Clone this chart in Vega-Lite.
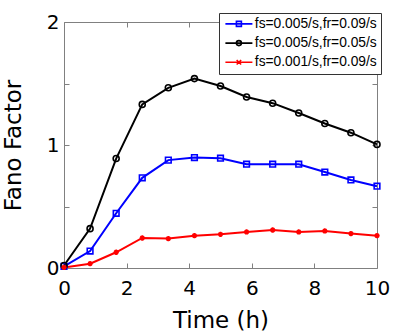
{
  "$schema": "https://vega.github.io/schema/vega-lite/v6.json",
  "autosize": "none",
  "width": 313,
  "height": 246,
  "padding": {"left": 64, "top": 22, "right": 38, "bottom": 63},
  "background": "white",
  "config": {
    "font": "DejaVu Sans",
    "view": {"stroke": "#808080", "strokeWidth": 1},
    "axis": {"grid": false, "domain": false, "tickColor": "#808080", "labelColor": "black", "titleColor": "black", "titleFontWeight": "normal", "labelFlush": false}
  },
  "data": {"values": [
    {"t": 0, "v": 0.014, "s": "fs=0.005/s,fr=0.09/s"},
    {"t": 0.833, "v": 0.138, "s": "fs=0.005/s,fr=0.09/s"},
    {"t": 1.667, "v": 0.445, "s": "fs=0.005/s,fr=0.09/s"},
    {"t": 2.5, "v": 0.733, "s": "fs=0.005/s,fr=0.09/s"},
    {"t": 3.333, "v": 0.877, "s": "fs=0.005/s,fr=0.09/s"},
    {"t": 4.167, "v": 0.898, "s": "fs=0.005/s,fr=0.09/s"},
    {"t": 5, "v": 0.893, "s": "fs=0.005/s,fr=0.09/s"},
    {"t": 5.833, "v": 0.844, "s": "fs=0.005/s,fr=0.09/s"},
    {"t": 6.667, "v": 0.844, "s": "fs=0.005/s,fr=0.09/s"},
    {"t": 7.5, "v": 0.844, "s": "fs=0.005/s,fr=0.09/s"},
    {"t": 8.333, "v": 0.78, "s": "fs=0.005/s,fr=0.09/s"},
    {"t": 9.167, "v": 0.716, "s": "fs=0.005/s,fr=0.09/s"},
    {"t": 10, "v": 0.665, "s": "fs=0.005/s,fr=0.09/s"},
    {"t": 0, "v": 0.02, "s": "fs=0.005/s,fr=0.05/s"},
    {"t": 0.833, "v": 0.32, "s": "fs=0.005/s,fr=0.05/s"},
    {"t": 1.667, "v": 0.89, "s": "fs=0.005/s,fr=0.05/s"},
    {"t": 2.5, "v": 1.33, "s": "fs=0.005/s,fr=0.05/s"},
    {"t": 3.333, "v": 1.465, "s": "fs=0.005/s,fr=0.05/s"},
    {"t": 4.167, "v": 1.54, "s": "fs=0.005/s,fr=0.05/s"},
    {"t": 5, "v": 1.48, "s": "fs=0.005/s,fr=0.05/s"},
    {"t": 5.833, "v": 1.39, "s": "fs=0.005/s,fr=0.05/s"},
    {"t": 6.667, "v": 1.34, "s": "fs=0.005/s,fr=0.05/s"},
    {"t": 7.5, "v": 1.26, "s": "fs=0.005/s,fr=0.05/s"},
    {"t": 8.333, "v": 1.175, "s": "fs=0.005/s,fr=0.05/s"},
    {"t": 9.167, "v": 1.1, "s": "fs=0.005/s,fr=0.05/s"},
    {"t": 10, "v": 1.005, "s": "fs=0.005/s,fr=0.05/s"},
    {"t": 0, "v": 0.005, "s": "fs=0.001/s,fr=0.09/s"},
    {"t": 0.833, "v": 0.035, "s": "fs=0.001/s,fr=0.09/s"},
    {"t": 1.667, "v": 0.128, "s": "fs=0.001/s,fr=0.09/s"},
    {"t": 2.5, "v": 0.244, "s": "fs=0.001/s,fr=0.09/s"},
    {"t": 3.333, "v": 0.239, "s": "fs=0.001/s,fr=0.09/s"},
    {"t": 4.167, "v": 0.263, "s": "fs=0.001/s,fr=0.09/s"},
    {"t": 5, "v": 0.274, "s": "fs=0.001/s,fr=0.09/s"},
    {"t": 5.833, "v": 0.293, "s": "fs=0.001/s,fr=0.09/s"},
    {"t": 6.667, "v": 0.309, "s": "fs=0.001/s,fr=0.09/s"},
    {"t": 7.5, "v": 0.293, "s": "fs=0.001/s,fr=0.09/s"},
    {"t": 8.333, "v": 0.301, "s": "fs=0.001/s,fr=0.09/s"},
    {"t": 9.167, "v": 0.28, "s": "fs=0.001/s,fr=0.09/s"},
    {"t": 10, "v": 0.263, "s": "fs=0.001/s,fr=0.09/s"}
  ]},
  "resolve": {"axis": {"x": "independent", "y": "independent"}},
  "layer": [
    {
      "layer": [
        {
          "mark": {"type": "line", "strokeWidth": 2},
          "encoding": {
            "x": {"field": "t", "type": "quantitative", "scale": {"domain": [0, 10], "nice": false},
              "axis": {"orient": "bottom", "values": [0, 2, 4, 6, 8, 10], "tickSize": -5, "labelPadding": 15, "labelFontSize": 20, "title": "Time (h)", "titleFontSize": 23, "titlePadding": 11}},
            "y": {"field": "v", "type": "quantitative", "scale": {"domain": [0, 2], "nice": false},
              "axis": {"orient": "left", "values": [0, 0.5, 1, 1.5, 2], "labelExpr": "datum.value % 1 == 0 ? format(datum.value, 'd') : ''", "tickSize": -5, "labelPadding": 10, "labelFontSize": 20, "title": "Fano Factor", "titleFontSize": 23, "titlePadding": 21}},
            "color": {"field": "s", "type": "nominal",
              "scale": {"domain": ["fs=0.005/s,fr=0.09/s", "fs=0.005/s,fr=0.05/s", "fs=0.001/s,fr=0.09/s"], "range": ["#0000ff", "#000000", "#ff0000"]},
              "legend": {"title": null, "orient": "none", "legendX": 155, "legendY": -9, "strokeColor": "#333333", "fillColor": "white", "padding": 4, "cornerRadius": 0,
                "labelFont": "Liberation Sans", "labelFontSize": 13.8, "labelColor": "black", "symbolSize": 100, "symbolOffset": 9, "labelOffset": 9, "rowPadding": 4.2,
                "encode": {"symbols": {
                  "update": {
                  "shape": {"signal": "datum.value == 'fs=0.005/s,fr=0.09/s' ? 'M-2.7,0H2.7M-0.5,-0.5H0.5V0.5H-0.5Z' : datum.value == 'fs=0.005/s,fr=0.05/s' ? 'M-2.7,0H2.7M0.5,0A0.5,0.5 0 1,1 -0.5,0A0.5,0.5 0 1,1 0.5,0' : 'M-2.7,0H2.7M-0.45,-0.45L0.45,0.45M-0.45,0.45L0.45,-0.45'"},
                  "size": {"value": 100},
                  "strokeWidth": {"value": 1.6},
                  "fill": {"value": "transparent"}
                }}}}}
          }
        },
        {
          "transform": [{"filter": "datum.s == 'fs=0.005/s,fr=0.09/s'"}],
          "mark": {"type": "point", "shape": "square", "filled": false, "strokeWidth": 1.6, "size": 32, "opacity": 1},
          "encoding": {
            "x": {"field": "t", "type": "quantitative"},
            "y": {"field": "v", "type": "quantitative"},
            "color": {"field": "s", "type": "nominal"}
          }
        },
        {
          "transform": [{"filter": "datum.s == 'fs=0.005/s,fr=0.05/s'"}],
          "mark": {"type": "point", "shape": "circle", "filled": false, "strokeWidth": 1.6, "size": 36, "opacity": 1},
          "encoding": {
            "x": {"field": "t", "type": "quantitative"},
            "y": {"field": "v", "type": "quantitative"},
            "color": {"field": "s", "type": "nominal"}
          }
        },
        {
          "transform": [{"filter": "datum.s == 'fs=0.001/s,fr=0.09/s'"}],
          "mark": {"type": "point", "shape": "M-1,0H1M0,-1V1M-0.7,-0.7L0.7,0.7M-0.7,0.7L0.7,-0.7", "filled": false, "strokeWidth": 1.6, "size": 28, "opacity": 1},
          "encoding": {
            "x": {"field": "t", "type": "quantitative"},
            "y": {"field": "v", "type": "quantitative"},
            "color": {"field": "s", "type": "nominal"}
          }
        }
      ]
    },
    {
      "mark": {"type": "line", "opacity": 0},
      "encoding": {
        "x": {"field": "t", "type": "quantitative",
          "axis": {"orient": "top", "values": [0, 2, 4, 6, 8, 10], "labels": false, "tickSize": -5, "title": null}},
        "y": {"field": "v", "type": "quantitative",
          "axis": {"orient": "right", "values": [0.5, 1, 1.5], "labels": false, "tickSize": -5, "title": null}},
        "detail": {"field": "s", "type": "nominal"}
      }
    }
  ]
}
